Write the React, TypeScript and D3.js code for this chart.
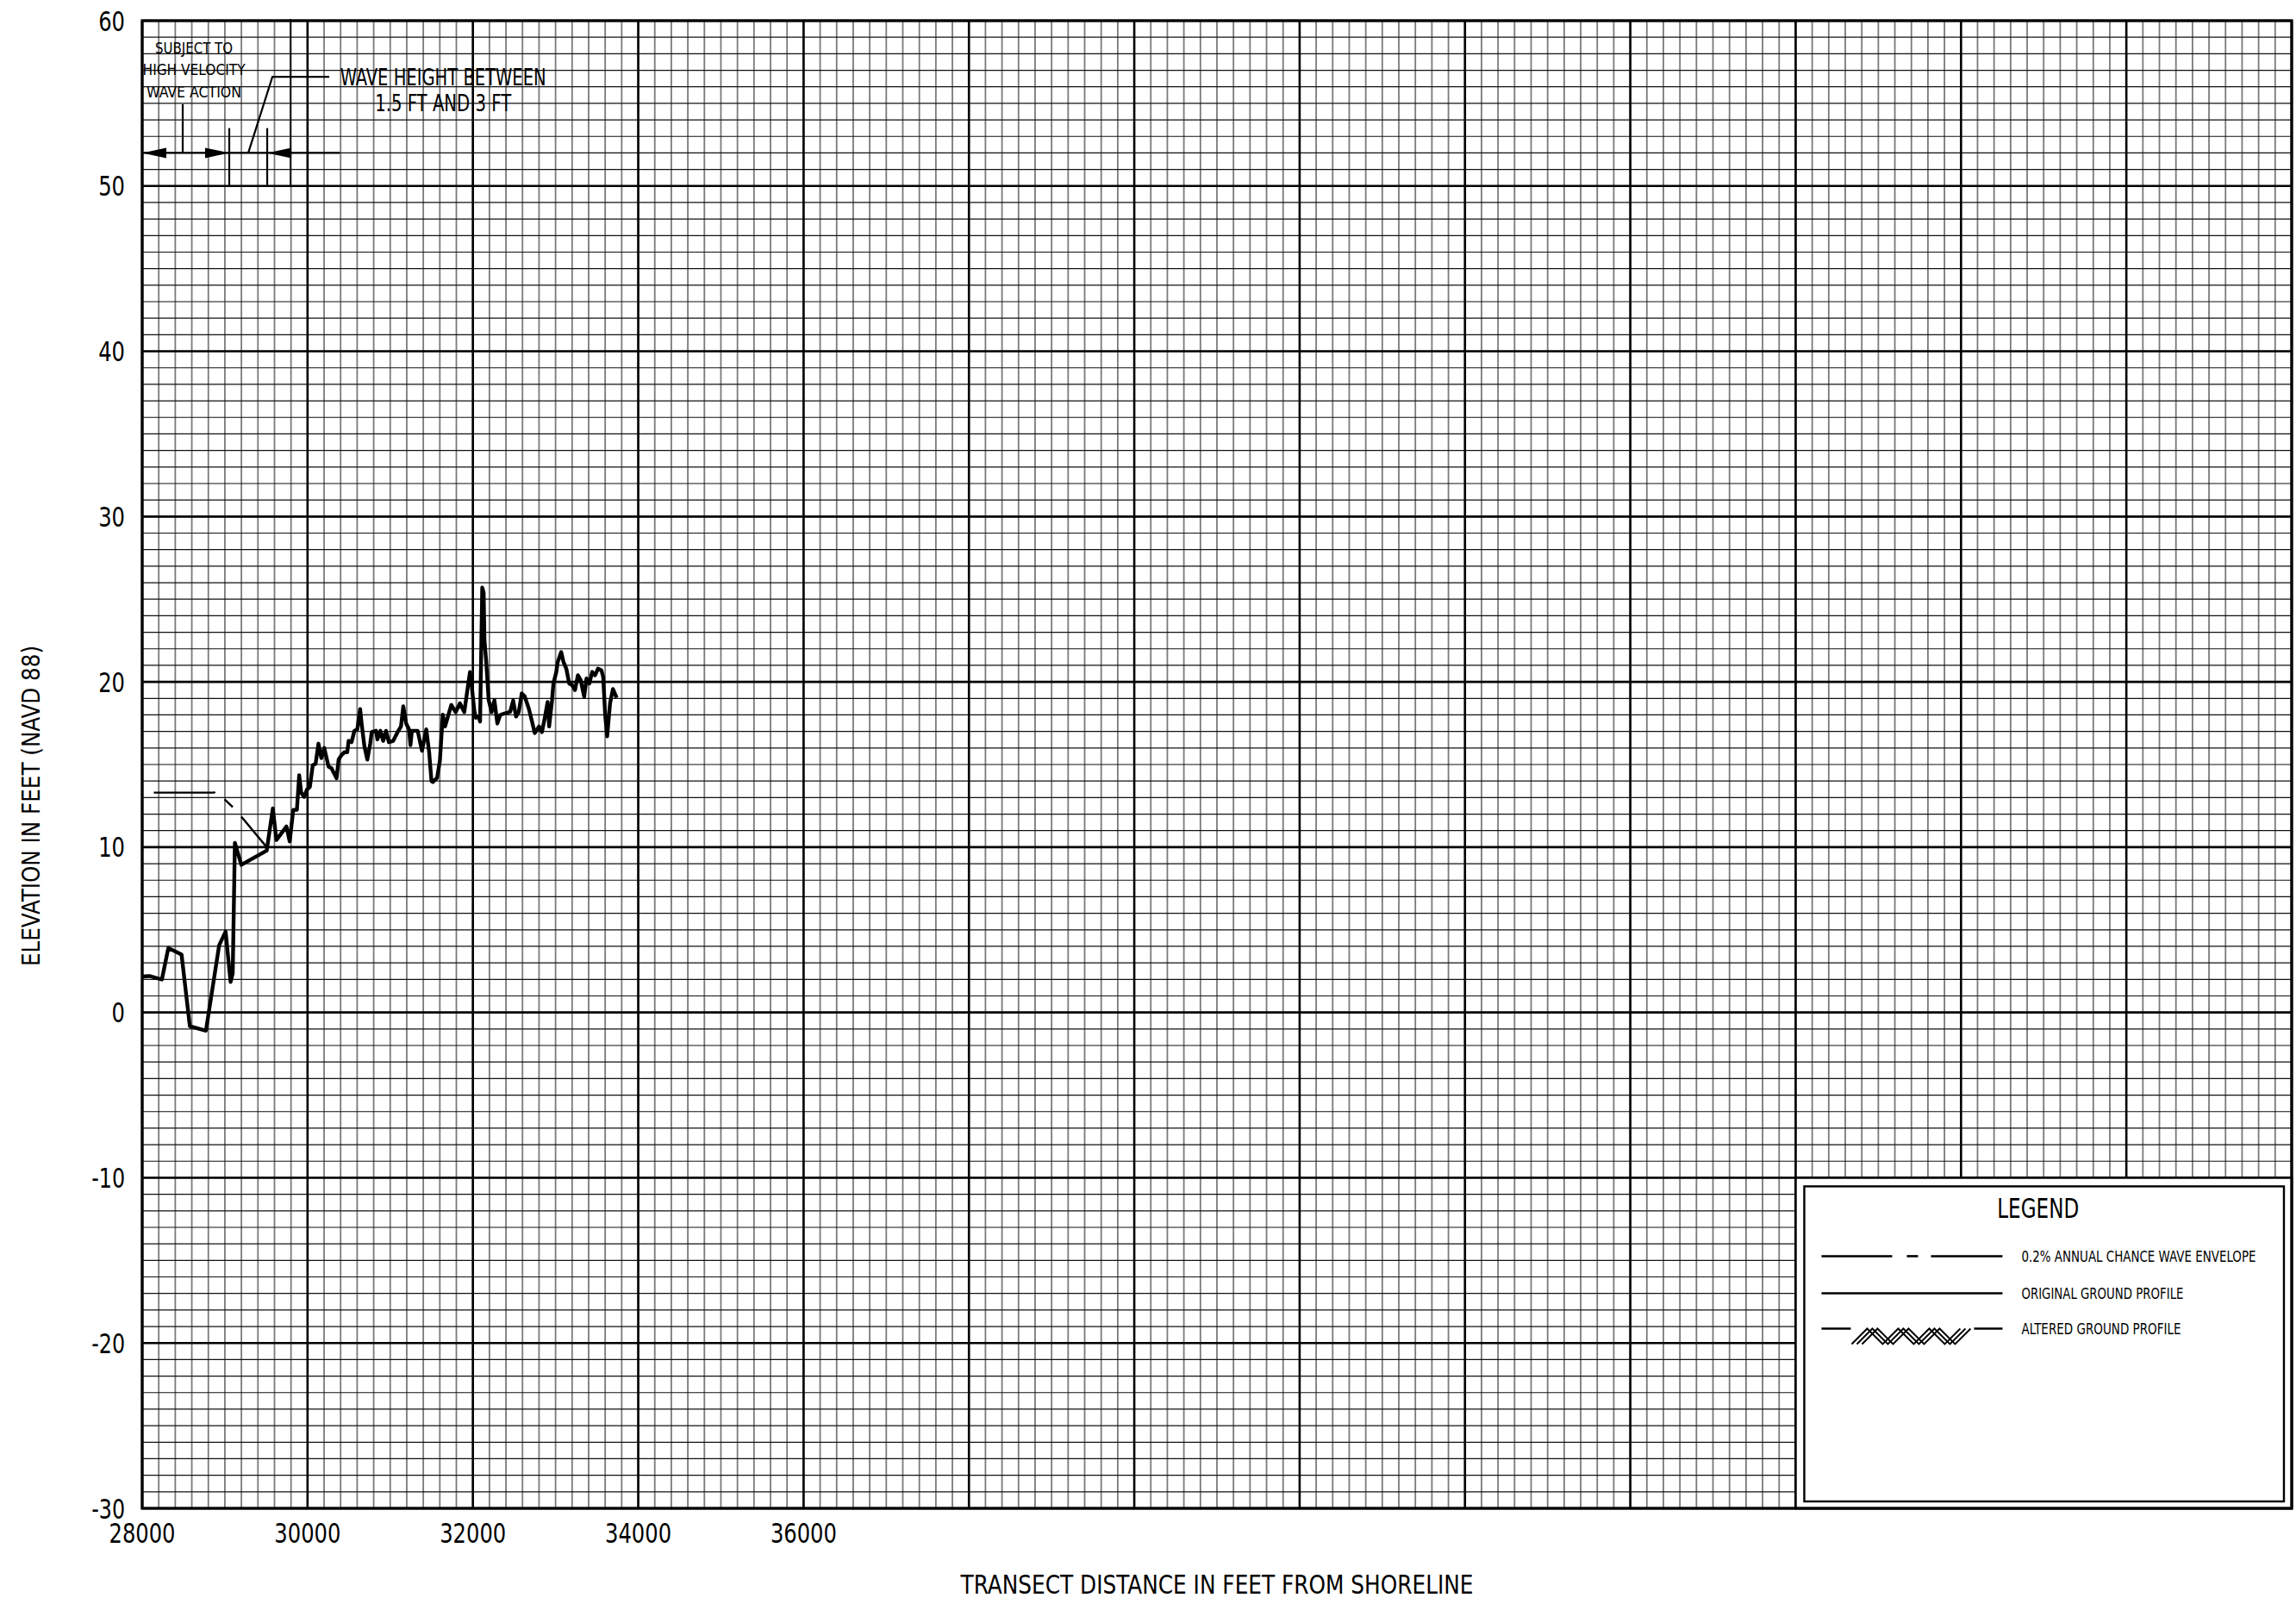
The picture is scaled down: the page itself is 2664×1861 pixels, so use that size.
import React from 'react';
import * as d3 from 'd3';

// ---------- data ----------
const xDomain: [number, number] = [28000, 54000];
const yDomain: [number, number] = [-30, 60];
const xTickLabels = [28000, 30000, 32000, 34000, 36000];
const yTickLabels = [60, 50, 40, 30, 20, 10, 0, -10, -20, -30];

// original ground profile (distance ft, elevation ft NAVD88)
const groundProfile: [number, number][] = [
  [28000, 2.17], [28087, 2.2], [28238, 1.99], [28316, 3.9], [28476, 3.5],
  [28576, -0.83], [28771, -1.1], [28931, 4.07], [29009, 4.89], [29069, 1.85],
  [29095, 2.37], [29121, 10.26], [29199, 8.93], [29506, 9.79], [29580, 12.34],
  [29623, 10.43], [29745, 11.25], [29784, 10.35], [29827, 12.25], [29871, 12.26],
  [29899, 14.35], [29923, 13.3], [29958, 13.04], [29993, 13.48], [30028, 13.65],
  [30063, 14.96], [30097, 15.04], [30132, 16.26], [30167, 15.39], [30202, 16.0],
  [30254, 14.87], [30289, 14.78], [30351, 14.17], [30376, 15.3], [30410, 15.57],
  [30445, 15.74], [30480, 15.74], [30497, 16.43], [30532, 16.35], [30567, 17.04],
  [30602, 17.13], [30636, 18.35], [30654, 17.48], [30688, 16.09], [30723, 15.3],
  [30758, 16.26], [30776, 16.96], [30828, 17.04], [30845, 16.52], [30880, 17.04],
  [30915, 16.43], [30949, 17.04], [30984, 16.35], [31036, 16.43], [31089, 16.96],
  [31130, 17.3], [31158, 18.52], [31193, 17.48], [31228, 17.13], [31245, 16.17],
  [31262, 17.04], [31332, 17.04], [31384, 15.83], [31436, 17.13], [31471, 15.74],
  [31499, 14.0], [31515, 13.94], [31567, 14.2], [31601, 15.24], [31636, 18.02],
  [31663, 17.3], [31739, 18.6], [31791, 18.17], [31843, 18.7], [31896, 18.17],
  [31930, 19.39], [31965, 20.6], [31983, 19.9], [32017, 18.26], [32035, 17.83],
  [32070, 17.9], [32087, 17.6], [32113, 25.7], [32130, 25.4], [32140, 22.5],
  [32160, 21.3], [32191, 18.9], [32226, 18.17], [32260, 18.89], [32296, 17.48],
  [32330, 18.0], [32383, 18.09], [32451, 18.19], [32487, 18.87], [32522, 17.9],
  [32555, 18.19], [32591, 19.3], [32626, 19.13], [32678, 18.35], [32713, 17.65],
  [32748, 16.9], [32800, 17.3], [32835, 16.96], [32870, 17.83], [32904, 18.78],
  [32922, 17.3], [32957, 18.87], [32974, 19.9], [33009, 20.6], [33026, 21.2],
  [33068, 21.8], [33096, 21.2], [33130, 20.8], [33165, 19.9], [33200, 19.8],
  [33235, 19.5], [33270, 20.4], [33304, 20.1], [33346, 19.1], [33374, 20.2],
  [33409, 19.9], [33443, 20.6], [33478, 20.4], [33513, 20.8], [33555, 20.7],
  [33576, 20.3], [33600, 18.0], [33624, 16.7], [33659, 18.7], [33694, 19.57],
  [33739, 19.04],
];

// 0.2% annual chance wave envelope (null = gap in the dash pattern)
const waveEnvelope: ([number, number] | null)[] = [
  [28140, 13.3], [28870, 13.3], [28880, 13.35], null,
  [28996, 12.9], [29095, 12.43], null,
  [29199, 11.85], [29506, 10.0],
];

// zone annotation (ft, ft)
const zoneArrowY = 52;
const zoneBounds = [28000, 29053, 29512, 30390];
const zoneTickX = 28490;
const zoneDividerX = 29793;

const legendLabels = [
  '0.2% ANNUAL CHANCE WAVE ENVELOPE',
  'ORIGINAL GROUND PROFILE',
  'ALTERED GROUND PROFILE',
];

// ---------- layout ----------
const W = 2664;
const H = 1861;
const L = 165, R = 2659, T = 24, B = 1750;
const FONT = "'Liberation Sans Narrow', 'DejaVu Sans Condensed', 'Roboto Condensed', 'Liberation Sans', sans-serif";

const labelWidth = (s: string) => {
  let w = 0;
  for (const c of s) w += c === '-' ? 8 : 15.4;
  return w;
};

export default function App() {
  const x = d3.scaleLinear().domain(xDomain).range([L, R]);
  const y = d3.scaleLinear().domain(yDomain).range([B, T]);

  const minorX = d3.range(xDomain[0], xDomain[1] + 1, 200);
  const majorX = d3.range(xDomain[0], xDomain[1] + 1, 2000);
  const minorY = d3.range(yDomain[0], yDomain[1] + 1, 1);
  const majorY = d3.range(yDomain[0], yDomain[1] + 1, 10);

  const line = d3
    .line<[number, number] | null>()
    .defined((d) => d != null)
    .x((d) => x((d as [number, number])[0]))
    .y((d) => y((d as [number, number])[1]));

  // legend box
  const lgX0 = x(48000), lgX1 = x(54000), lgY0 = y(-10), lgY1 = y(-30);
  const inX0 = lgX0 + 10, inX1 = lgX1 - 9, inY0 = lgY0 + 10, inY1 = lgY1 - 8;
  const sx0 = inX0 + 20, sx1 = inX0 + 230;
  const textX = inX0 + 252;
  const ly = [inY0 + 81, inY0 + 124, inY0 + 165];

  // hatch symbol for altered ground profile
  const hatch: string[] = [];
  {
    const hx0 = sx0 + 35, hx1 = sx0 + 177, top = ly[2], bot = ly[2] + 18;
    const period = 36;
    for (let off = 0; off < 3; off++) {
      const pts: [number, number][] = [];
      for (let k = 0; k <= 8; k++) {
        const px = hx0 + off * 6 + (k * period) / 2;
        if (px > hx1) break;
        pts.push([px, k % 2 === 0 ? bot : top]);
      }
      hatch.push(d3.line()(pts) as string);
    }
  }

  const ay = y(zoneArrowY);
  const arrowHead = (tipX: number, dir: number) =>
    `M${tipX},${ay} L${tipX + dir * 28},${ay - 6} L${tipX + dir * 28},${ay + 6} Z`;

  return (
    <svg
      width={W}
      height={H}
      style={{ position: 'absolute', left: 0, top: 0, background: '#fff' }}
      fontFamily={FONT}
    >
      <rect x={0} y={0} width={W} height={H} fill="#fff" />
      {/* minor grid */}
      {minorX.map((v) => (
        <line key={'mx' + v} x1={x(v)} x2={x(v)} y1={T} y2={B} stroke="#7a7a7a" strokeWidth={1.8} />
      ))}
      {minorY.map((v) => (
        <line key={'my' + v} x1={L} x2={R} y1={y(v)} y2={y(v)} stroke="#111" strokeWidth={1.2} />
      ))}
      {/* major grid */}
      {majorX.map((v) => (
        <line key={'Mx' + v} x1={x(v)} x2={x(v)} y1={T} y2={B} stroke="#000" strokeWidth={2.6} />
      ))}
      {majorY.map((v) => (
        <line key={'My' + v} x1={L} x2={R} y1={y(v)} y2={y(v)} stroke="#000" strokeWidth={2.6} />
      ))}

      {/* legend */}
      <rect x={lgX0} y={lgY0} width={lgX1 - lgX0} height={lgY1 - lgY0} fill="#fff" stroke="#000" strokeWidth={2.6} />
      <rect x={inX0} y={inY0} width={inX1 - inX0} height={inY1 - inY0} fill="#fff" stroke="#000" strokeWidth={2.4} />
      <text x={(inX0 + inX1) / 2 - 7} y={inY0 + 37} fontSize={32} textAnchor="middle" textLength={95} lengthAdjust="spacingAndGlyphs">LEGEND</text>
      <line x1={sx0} x2={sx0 + 82} y1={ly[0]} y2={ly[0]} stroke="#000" strokeWidth={2.6} />
      <line x1={sx0 + 99} x2={sx0 + 112} y1={ly[0]} y2={ly[0]} stroke="#000" strokeWidth={2.6} />
      <line x1={sx0 + 127} x2={sx1} y1={ly[0]} y2={ly[0]} stroke="#000" strokeWidth={2.6} />
      <line x1={sx0} x2={sx1} y1={ly[1]} y2={ly[1]} stroke="#000" strokeWidth={2.6} />
      <line x1={sx0} x2={sx0 + 34} y1={ly[2]} y2={ly[2]} stroke="#000" strokeWidth={2.6} />
      <line x1={sx0 + 177} x2={sx1} y1={ly[2]} y2={ly[2]} stroke="#000" strokeWidth={2.6} />
      {hatch.map((d, i) => (
        <path key={'h' + i} d={d} fill="none" stroke="#000" strokeWidth={2} />
      ))}
      {legendLabels.map((t, i) => (
        <text key={t} x={textX} y={ly[i] + 7} fontSize={18}
          textLength={[272, 188, 185][i]} lengthAdjust="spacingAndGlyphs">{t}</text>
      ))}

      {/* plot border */}
      <rect x={L} y={T} width={R - L} height={B - T} fill="none" stroke="#000" strokeWidth={3.2} />

      {/* data */}
      <path d={line(waveEnvelope) as string} fill="none" stroke="#000" strokeWidth={2.4} />
      <path d={line(groundProfile) as string} fill="none" stroke="#000" strokeWidth={4.4} strokeLinejoin="round" />

      {/* zone annotation */}
      <line x1={x(zoneBounds[0])} x2={x(zoneBounds[3])} y1={ay} y2={ay} stroke="#000" strokeWidth={2.2} />
      <path d={arrowHead(x(zoneBounds[0]), 1)} fill="#000" />
      <path d={arrowHead(x(zoneBounds[1]), -1)} fill="#000" />
      <path d={arrowHead(x(zoneBounds[2]), 1)} fill="#000" />
      <line x1={x(zoneTickX)} x2={x(zoneTickX)} y1={y(54.95)} y2={ay} stroke="#000" strokeWidth={2.2} />
      <line x1={x(zoneBounds[1])} x2={x(zoneBounds[1])} y1={y(53.5)} y2={y(50.05)} stroke="#000" strokeWidth={2.2} />
      <line x1={x(zoneBounds[2])} x2={x(zoneBounds[2])} y1={y(53.5)} y2={y(50.05)} stroke="#000" strokeWidth={2.2} />
      <line x1={x(zoneDividerX)} x2={x(zoneDividerX)} y1={y(60.1)} y2={y(50.05)} stroke="#000" strokeWidth={1.6} />
      <path
        d={d3.line()([[x(29283), ay], [x(29575), y(56.6)], [x(30263), y(56.6)]]) as string}
        fill="none" stroke="#000" strokeWidth={2.2}
      />
      {['SUBJECT TO', 'HIGH VELOCITY', 'WAVE ACTION'].map((t, i) => (
        <text key={t} x={x(28626)} y={y([58.02, 56.7, 55.36][i])} fontSize={18} textAnchor="middle"
          textLength={[90, 119, 110][i]} lengthAdjust="spacingAndGlyphs">{t}</text>
      ))}
      <text x={x(31640)} y={y(56.1)} fontSize={26} textAnchor="middle" textLength={239} lengthAdjust="spacingAndGlyphs">WAVE HEIGHT BETWEEN</text>
      <text x={x(31640)} y={y(54.55)} fontSize={26} textAnchor="middle" textLength={158} lengthAdjust="spacingAndGlyphs">1.5 FT AND 3 FT</text>

      {/* axis labels */}
      {yTickLabels.map((v) => (
        <text key={'yt' + v} x={L - 20} y={y(v) + 11.5} fontSize={32} textAnchor="end"
          textLength={labelWidth(String(v))} lengthAdjust="spacingAndGlyphs">{v}</text>
      ))}
      {xTickLabels.map((v) => (
        <text key={'xt' + v} x={x(v)} y={B + 40} fontSize={32} textAnchor="middle"
          textLength={labelWidth(String(v))} lengthAdjust="spacingAndGlyphs">{v}</text>
      ))}
      <text x={(L + R) / 2} y={1849} fontSize={31} textAnchor="middle" textLength={595} lengthAdjust="spacingAndGlyphs">
        TRANSECT DISTANCE IN FEET FROM SHORELINE
      </text>
      <text transform={`translate(46, 935) rotate(-90)`} fontSize={29} textAnchor="middle" textLength={372} lengthAdjust="spacingAndGlyphs">
        ELEVATION IN FEET (NAVD 88)
      </text>
    </svg>
  );
}
